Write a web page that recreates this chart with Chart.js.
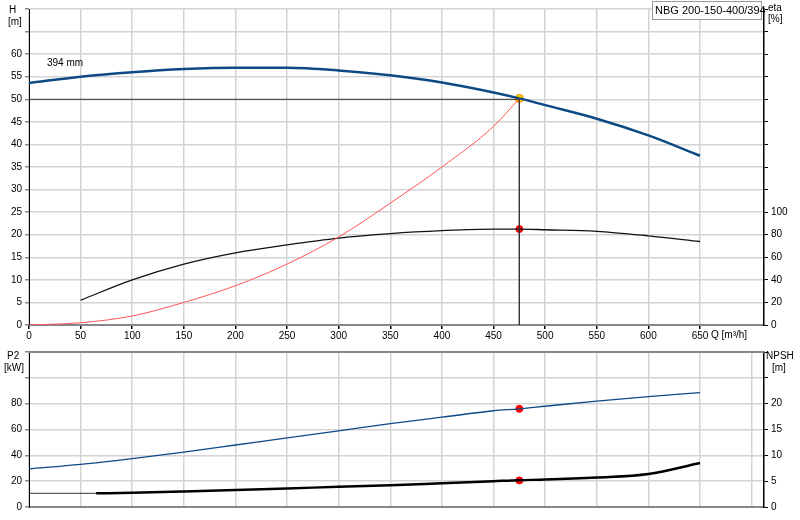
<!DOCTYPE html>
<html><head><meta charset="utf-8">
<script src="https://cdn.jsdelivr.net/npm/chart.js@4"></script>
<style>body{margin:0;background:#fff}canvas{position:absolute;left:0}</style>
</head><body>
<canvas id="c1" style="top:0px" width="800" height="340"></canvas>
<canvas id="c2" style="top:340px" width="800" height="180"></canvas>
<script>
const qH=[0,50,100,150,200,250,300,350,400,450,475,500,550,600,650];
const head=[53.6,55,56,56.7,57,57,56.4,55.3,53.7,51.5,50.2,48.7,45.7,42,37.5];
const qEta=[50,100,150,200,250,300,350,400,450,475,500,550,600,650];
const eta=[22,40,54,64,71,77,81,83.6,85,85,84.4,83,79,74];
const qSys=[0,50,100,150,200,250,300,350,400,450,475];
const sys=[0,0.5,2,5,8.7,13.5,19.5,27,35,44,50.2];
const qP2=[0,50,100,150,200,250,300,350,400,450,475,500,550,600,650];
const p2=[29.5,33,37.5,42.5,48,53.5,59,64.5,69.5,74.5,76,78,82,85.5,88.5];
const qNpsh=[65,100,150,200,250,300,350,400,450,475,500,550,600,650];
const npsh=[2.65,2.75,3,3.3,3.6,3.9,4.2,4.6,5,5.2,5.3,5.7,6.4,8.5];
const npshLow=[[0,2.65],[65,2.65]];
const duty={q:475,h:50.2,eta:85,p2:76,npsh:5.15};
const xTicks=[0,50,100,150,200,250,300,350,400,450,500,550,600,650];
const pts=(xs,ys)=>xs.map((x,i)=>({x,y:ys[i]}));
const F='"Liberation Sans", Arial, sans-serif';
Chart.defaults.font.family=F;Chart.defaults.font.size=10;Chart.defaults.color='#000';
Chart.defaults.animation=false;
const grid={color:'#d4d4d4',lineWidth:1.5,tickLength:4,tickColor:'#888'};
function fit(w){return a=>{a.width=w;};}
function texts(list){return{id:'t',afterDraw(c){const x=c.ctx;x.save();x.fillStyle='#000';x.font='10px '+F;
 list.forEach(t=>{x.textAlign=t.a||'left';x.fillText(t.s,t.x,t.y);});
 x.restore();}};}
const boxPlugin={id:'box',afterDraw(c){const x=c.ctx;x.save();x.fillStyle='#fff';x.strokeStyle='#999';x.lineWidth=1;
 x.fillRect(652.5,1.5,109,18);x.strokeRect(652.5,1.5,109,18);x.fillStyle='#000';x.font='11px '+F;x.fillText('NBG 200-150-400/394',655,14);x.restore();}};
new Chart(document.getElementById('c1'),{type:'scatter',
 data:{datasets:[
  {data:[{x:0,y:50},{x:duty.q,y:50},{x:duty.q,y:0}],showLine:true,borderColor:'#333',borderWidth:1,pointRadius:0,yAxisID:'y'},
  {data:pts(qSys,sys),showLine:true,borderColor:'#f55',borderWidth:1,pointRadius:0,cubicInterpolationMode:'monotone',yAxisID:'y'},
  {data:pts(qH,head),showLine:true,borderColor:'#0d4a85',borderWidth:2.5,pointRadius:0,cubicInterpolationMode:'monotone',yAxisID:'y'},
  {data:pts(qEta,eta),showLine:true,borderColor:'#111',borderWidth:1.3,pointRadius:0,cubicInterpolationMode:'monotone',yAxisID:'y2'},
  {data:[{x:duty.q,y:duty.eta}],pointRadius:3.5,backgroundColor:'#f00',borderColor:'#f00',yAxisID:'y2'},
  {data:[{x:duty.q,y:duty.h}],pointRadius:4,backgroundColor:'#ffd700',borderColor:'#f08000',borderWidth:1,yAxisID:'y'}
 ]},
 options:{responsive:false,layout:{padding:{top:1,right:0,left:0,bottom:0}},
  plugins:{legend:{display:false},tooltip:{enabled:false}},
  scales:{
   x:{type:'linear',min:0,max:712,afterBuildTicks:a=>{a.ticks=xTicks.map(v=>({value:v}));},afterFit:a=>{a.height=15;},
      grid:{...grid,tickColor:'#000'},border:{color:'#888',width:2},ticks:{maxRotation:0,padding:1}},
   y:{min:0,max:70,afterFit:fit(29),ticks:{stepSize:5,padding:3,callback:v=>v<=60?v:''},grid:grid,border:{color:'#000',width:1}},
   y2:{position:'right',min:0,max:280,afterFit:fit(36),ticks:{stepSize:20,padding:3,callback:v=>v<=100?v:''},
      grid:{drawOnChartArea:false,tickLength:4,tickColor:'#000'},border:{color:'#000',width:1.5}}
  }},
 plugins:[texts([{s:'H',x:9,y:13},{s:'[m]',x:8,y:25},{s:'eta',x:768,y:11},{s:'[%]',x:768,y:22},
  {s:'394 mm',x:47,y:66},{s:'Q [m³/h]',x:711,y:338}]),boxPlugin]});
new Chart(document.getElementById('c2'),{type:'scatter',
 data:{datasets:[
  {data:pts(qP2,p2),showLine:true,borderColor:'#0d4a85',borderWidth:1.3,pointRadius:0,cubicInterpolationMode:'monotone',yAxisID:'y'},
  {data:npshLow.map(p=>({x:p[0],y:p[1]})),showLine:true,borderColor:'#333',borderWidth:1,pointRadius:0,yAxisID:'y2'},
  {data:pts(qNpsh,npsh),showLine:true,borderColor:'#000',borderWidth:2.5,pointRadius:0,cubicInterpolationMode:'monotone',yAxisID:'y2'},
  {data:[{x:duty.q,y:duty.p2}],pointRadius:3.5,backgroundColor:'#f00',borderColor:'#f00',yAxisID:'y'},
  {data:[{x:duty.q,y:duty.npsh}],pointRadius:3.5,backgroundColor:'#f00',borderColor:'#f00',yAxisID:'y2'}
 ]},
 options:{responsive:false,layout:{padding:{top:12,right:0,left:0,bottom:0}},
  plugins:{legend:{display:false},tooltip:{enabled:false}},
  scales:{
   x:{type:'linear',min:0,max:712,afterBuildTicks:a=>{a.ticks=xTicks.concat([700]).map(v=>({value:v}));},afterFit:a=>{a.height=13;},
      grid:{...grid,tickLength:0},border:{color:'#888',width:2},ticks:{display:false}},
   y:{min:0,max:120,afterFit:fit(29),ticks:{stepSize:20,padding:3,callback:v=>v<=80?v:''},grid:grid,border:{color:'#000',width:1}},
   y2:{position:'right',min:0,max:30,afterFit:fit(36),ticks:{stepSize:5,padding:3,callback:v=>v<=20?v:''},
      grid:{drawOnChartArea:false,tickLength:4,tickColor:'#000'},border:{color:'#000',width:1.5}}
  }},
 plugins:[{id:'top',afterDraw(c){const x=c.ctx,a=c.chartArea;x.save();x.strokeStyle='#888';x.lineWidth=2;x.beginPath();x.moveTo(a.left,a.top);x.lineTo(a.right,a.top);x.stroke();x.restore();}},
  texts([{s:'P2',x:7,y:19},{s:'[kW]',x:4,y:31},{s:'NPSH',x:766,y:19},{s:'[m]',x:772,y:31}])]});
</script></body></html>
